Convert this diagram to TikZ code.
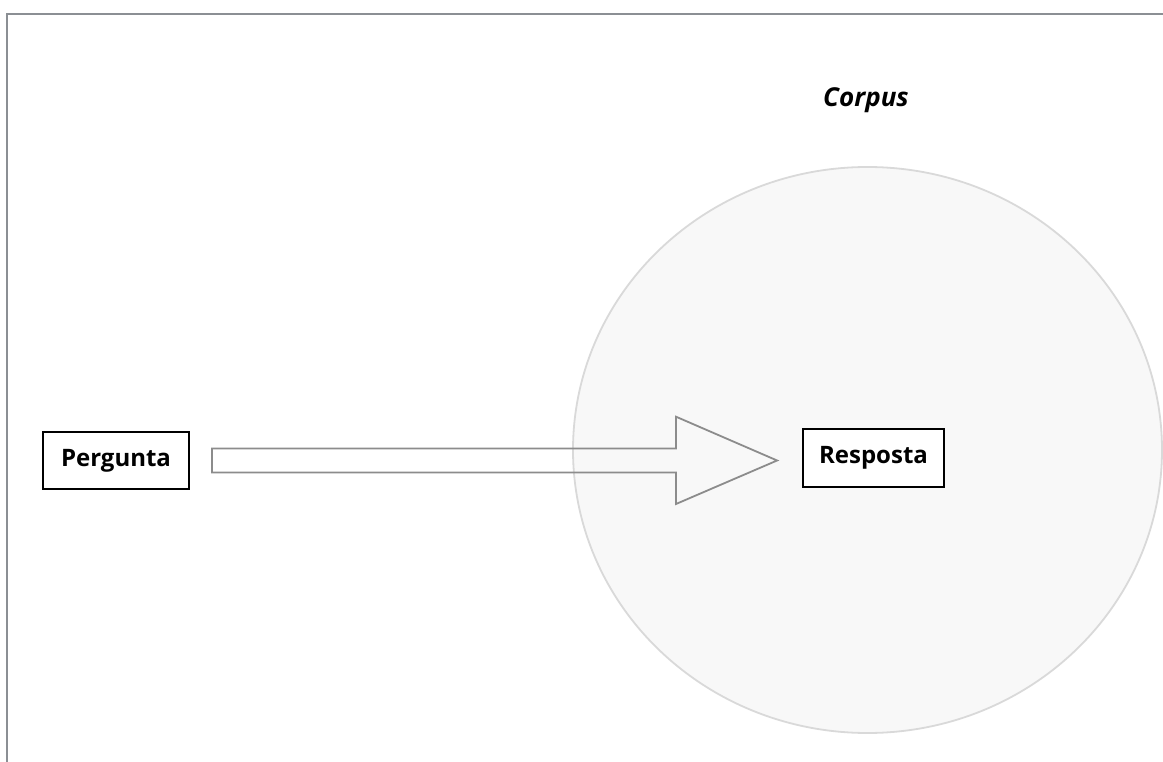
\documentclass[tikz,border=0pt]{standalone}
\usepackage{fontspec}
\setmainfont{Open Sans}
\begin{document}
\begin{tikzpicture}[x=1pt,y=-1pt,
  labelbox/.style={draw=black, line width=1.8pt, fill=white, inner sep=0pt, font=\fontsize{24}{26}\selectfont\bfseries}]
  \useasboundingbox (0,0) rectangle (1163,762);
  % open frame: left and top edges
  \draw[draw={rgb,255:red,139;green,143;blue,148}, line width=2pt] (7,762) -- (7,14) -- (1163,14);
  % corpus region
  \draw[fill={rgb,255:red,248;green,248;blue,248}, draw={rgb,255:red,217;green,217;blue,217}, line width=1.8pt]
    (867.5,450) ellipse [x radius=294.5, y radius=283];
  \node[font=\fontsize{26}{28}\selectfont\bfseries\itshape] (corpus) at (866,100) {Corpus};
  \node[labelbox, minimum width=146pt, minimum height=57pt] (perg) at (116,460.5) {Pergunta};
  \node[labelbox, minimum width=141pt, minimum height=58pt] (resp) at (873.5,458) {Resposta};
  % block arrow from question towards answer
  \coordinate (tail) at ([xshift=22pt]perg.east);
  \coordinate (tip) at ([xshift=-25pt]resp.west |- tail);
  \draw[draw={rgb,255:red,140;green,140;blue,140}, line width=1.8pt, line join=miter]
    ([yshift=12pt]tail) -- (676,448.5) -- (676,416.7) -- (tip)
    -- (676,504) -- (676,472.5) -- ([yshift=-12pt]tail) -- cycle;
\end{tikzpicture}
\end{document}
